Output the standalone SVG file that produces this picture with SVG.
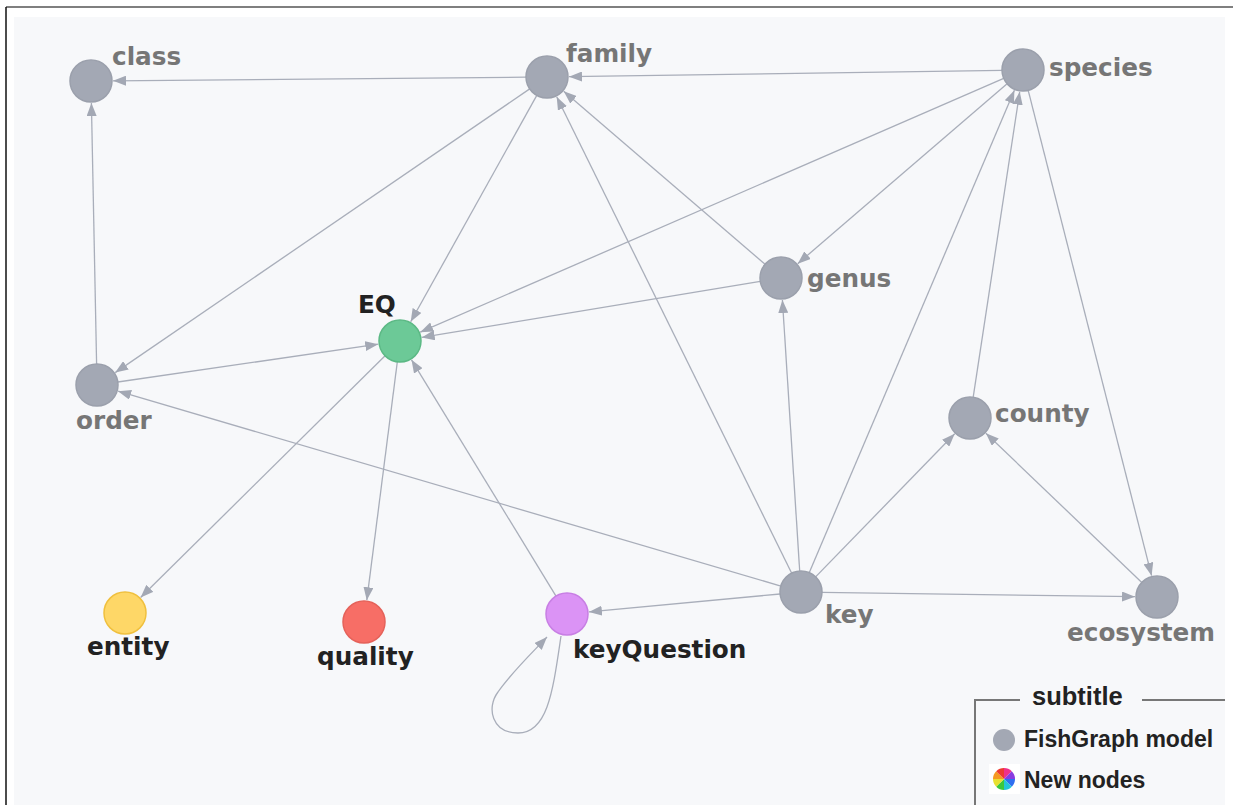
<svg xmlns="http://www.w3.org/2000/svg" width="1233" height="805" viewBox="0 0 1233 805">
  <style>
    .edge { fill: none; stroke: #a9aeba; stroke-width: 1.3; marker-end: url(#arrow); }
    .node circle { stroke-width: 1.5; }
    .gray circle { fill: #a3a8b4; stroke: #9ba0ac; }
    .label { font-family: "DejaVu Sans", Verdana, sans-serif; font-weight: bold; font-size: 24.7px; }
    .gray .label { fill: #767676; }
    .dark .label { fill: #222222; }
    .legend text { font-family: "Liberation Sans", Arial, sans-serif; font-weight: bold; fill: #222222; }
  </style>
  <defs>
    <marker id="arrow" viewBox="0 0 13 10" refX="13" refY="5" markerWidth="13" markerHeight="10" markerUnits="userSpaceOnUse" orient="auto">
      <path d="M0,0 L13,5 L0,10 z" fill="#a3a8b4"/>
    </marker>
  </defs>

  <!-- canvas frame -->
  <rect x="0" y="0" width="1233" height="805" fill="#ffffff"/>
  <rect x="14" y="17" width="1211" height="788" fill="#f7f8fa"/>
  <line x1="6" y1="7" x2="1233" y2="7" stroke="#555555" stroke-width="1.5"/>
  <line x1="6" y1="7" x2="6" y2="805" stroke="#111111" stroke-width="1.5"/>

  <!-- connectors -->
  <g id="edges">
    <path class="edge" d="M526,77.2 L113,80.8"/>
    <path class="edge" d="M1002,70.3 L569,76.7"/>
    <path class="edge" d="M96.6,364 L91.4,103"/>
    <path class="edge" d="M529.7,88.9 L115.2,372.6"/>
    <path class="edge" d="M536.8,95.4 L410.7,321.8"/>
    <path class="edge" d="M1003.7,78.4 L420.2,332.2"/>
    <path class="edge" d="M760.3,281.4 L421.7,337.4"/>
    <path class="edge" d="M117.8,382 L378.2,344.2"/>
    <path class="edge" d="M385.1,355.8 L140.6,597.5"/>
    <path class="edge" d="M397.3,361.8 L366.8,600.2"/>
    <path class="edge" d="M556,596.1 L411.5,359.8"/>
    <path class="edge" d="M780.1,594 L588.9,611.9"/>
    <path class="edge" d="M780.9,586.1 L118.1,391.2"/>
    <path class="edge" d="M791.7,573.2 L556.7,96.7"/>
    <path class="edge" d="M765.1,264.3 L563.7,91.3"/>
    <path class="edge" d="M1007.1,83.7 L797.7,263.7"/>
    <path class="edge" d="M799.7,571 L782.4,300"/>
    <path class="edge" d="M809.2,572.7 L1014.4,90.2"/>
    <path class="edge" d="M973.2,397.2 L1019.7,91.8"/>
    <path class="edge" d="M1028.2,90.3 L1151.6,575.7"/>
    <path class="edge" d="M815.6,576.9 L954.7,433.8"/>
    <path class="edge" d="M1141.8,582.5 L985.9,433.2"/>
    <path class="edge" d="M822,592.3 L1135,596.7"/>
    <path class="edge" d="M561,636 C553,690 548,733 518,733 C492,733 486,708 498,692 C512,672 530,655 547,637"/>
  </g>

  <!-- nodes -->
  <g id="node-class" class="node gray">
    <circle cx="91" cy="81" r="21"/>
    <text class="label" x="112" y="65">class</text>
  </g>
  <g id="node-family" class="node gray">
    <circle cx="547" cy="77" r="21"/>
    <text class="label" x="566" y="62">family</text>
  </g>
  <g id="node-species" class="node gray">
    <circle cx="1023" cy="70" r="21"/>
    <text class="label" x="1049" y="76">species</text>
  </g>
  <g id="node-genus" class="node gray">
    <circle cx="781" cy="278" r="21"/>
    <text class="label" x="807" y="287">genus</text>
  </g>
  <g id="node-county" class="node gray">
    <circle cx="970" cy="418" r="21"/>
    <text class="label" x="995" y="422">county</text>
  </g>
  <g id="node-order" class="node gray">
    <circle cx="97" cy="385" r="21"/>
    <text class="label" x="76" y="429">order</text>
  </g>
  <g id="node-key" class="node gray">
    <circle cx="801" cy="592" r="21"/>
    <text class="label" x="825" y="623">key</text>
  </g>
  <g id="node-ecosystem" class="node gray">
    <circle cx="1157" cy="597" r="21"/>
    <text class="label" x="1067" y="641">ecosystem</text>
  </g>
  <g id="node-EQ" class="node dark">
    <circle cx="400" cy="341" r="21" fill="#6cc997" stroke="#5cb985"/>
    <text class="label" x="358" y="313">EQ</text>
  </g>
  <g id="node-entity" class="node dark">
    <circle cx="125" cy="613" r="21" fill="#fed767" stroke="#f0c03e"/>
    <text class="label" x="87" y="655">entity</text>
  </g>
  <g id="node-quality" class="node dark">
    <circle cx="364" cy="622" r="21" fill="#f76e66" stroke="#e5625a"/>
    <text class="label" x="317" y="665">quality</text>
  </g>
  <g id="node-keyQuestion" class="node dark">
    <circle cx="567" cy="614" r="21" fill="#db93f5" stroke="#c87fe4"/>
    <text class="label" x="573" y="658">keyQuestion</text>
  </g>

  <!-- legend -->
  <g id="legend" class="legend">
    <polyline points="1020,700 975,700 975,805" fill="none" stroke="#777777" stroke-width="2"/>
    <line x1="1142" y1="700" x2="1225" y2="700" stroke="#777777" stroke-width="2"/>
    <text x="1032" y="705" font-size="25.5">subtitle</text>
    <circle cx="1004" cy="740" r="11" fill="#a3a8b4"/>
    <text x="1024" y="747" font-size="23">FishGraph model</text>
    <rect x="989" y="764" width="31" height="30" fill="#ffffff"/>
    <g id="hue-wheel">
      <path d="M1004,779 L1004,768 A11,11 0 0 1 1011.8,771.2 z" fill="#f0308a"/>
      <path d="M1004,779 L1011.8,771.2 A11,11 0 0 1 1015,779 z" fill="#8a3ce0"/>
      <path d="M1004,779 L1015,779 A11,11 0 0 1 1011.8,786.8 z" fill="#2f6ff0"/>
      <path d="M1004,779 L1011.8,786.8 A11,11 0 0 1 1004,790 z" fill="#22c6d8"/>
      <path d="M1004,779 L1004,790 A11,11 0 0 1 996.2,786.8 z" fill="#3cc83c"/>
      <path d="M1004,779 L996.2,786.8 A11,11 0 0 1 993,779 z" fill="#e8e030"/>
      <path d="M1004,779 L993,779 A11,11 0 0 1 996.2,771.2 z" fill="#f59a22"/>
      <path d="M1004,779 L996.2,771.2 A11,11 0 0 1 1004,768 z" fill="#ee3a30"/>
    </g>
    <text x="1024" y="788" font-size="23">New nodes</text>
  </g>
</svg>
